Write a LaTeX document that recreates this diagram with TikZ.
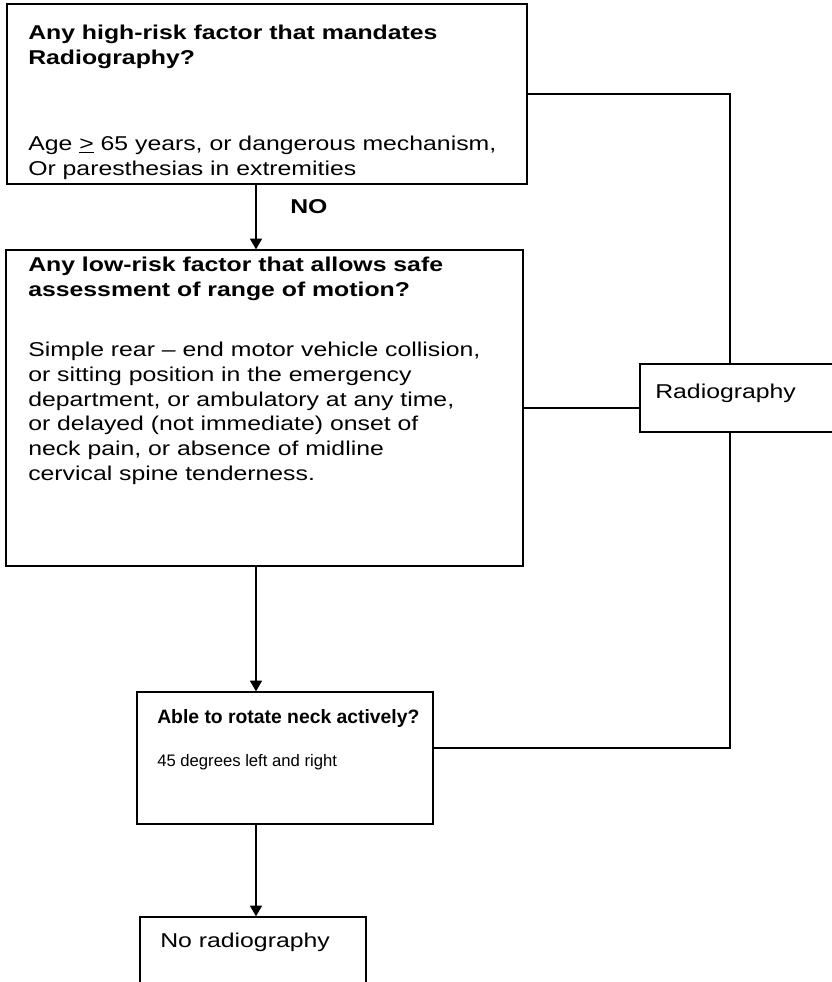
\documentclass[tikz,border=0pt]{standalone}
\usepackage{fontspec}
\setmainfont{Liberation Sans}[FakeStretch=1.24]
\newfontfamily\narrowfont{Liberation Sans}
\usetikzlibrary{positioning,arrows.meta}

\tikzset{
  box/.style={draw, line width=1pt, inner sep=0pt},
  txt/.style={anchor=base west, align=left, inner sep=0pt,
    font=\fontsize{15}{18.5}\selectfont},
  smalltxt/.style={txt, font=\narrowfont\fontsize{12.5}{15}\selectfont},
  arr/.style={line width=1pt, -{Triangle[width=9pt,length=8pt]}}
}

\begin{document}
\begin{tikzpicture}[x=0.75pt, y=-0.75pt]
    \useasboundingbox (0,0) rectangle (832,982);
    % boxes
    \node [box, minimum width=390pt, minimum height=135pt] (high) at (267,94) {};
    \node [box, minimum width=387.75pt, minimum height=237pt] (low) at (264.5,408) {};
    \node [box, minimum width=222pt, minimum height=99pt] (rot) at (285,758) {};
    \node [box, minimum width=169.5pt, minimum height=75pt] (none) at (253,967) {};
    \node [box, minimum width=165pt, minimum height=51pt] (xray) at (750,398) {};
    % texts
    \node [txt, font=\fontsize{15}{18.5}\bfseries] (hightitle) at (28,64)
      {Any high-risk factor that mandates\\Radiography?};
    \node [txt] (highbody) at (28,175)
      {Age \underline{>} 65 years, or dangerous mechanism,\\Or paresthesias in extremities};
    \node [txt, font=\fontsize{15}{18.5}\bfseries] (lowtitle) at (28,296)
      {Any low-risk factor that allows safe\\assessment of range of motion?};
    \node [txt] (lowbody) at (28,480)
      {Simple rear -- end motor vehicle collision,\\
       or sitting position in the emergency\\
       department, or ambulatory at any time,\\
       or delayed (not immediate) onset of\\
       neck pain, or absence of midline\\
       cervical spine tenderness.};
    \node [smalltxt, font=\narrowfont\fontsize{14.5}{15}\bfseries] (rottitle) at (157,723)
      {Able to rotate neck actively?};
    \node [smalltxt] (rotbody) at (157,766) {45 degrees left and right};
    \node [txt] (nonetxt) at (160,947) {No radiography};
    \node [txt] (xraytxt) at (655,398) {Radiography};
    \node [txt, font=\fontsize{15}{18.5}\bfseries] (no) at (290,213) {NO};
    % connectors
    \coordinate (axis) at (256,0);
    \coordinate (rx) at (730,0);
    \coordinate (c3) at (730,748);
    \draw [arr] (axis |- high.south) -- (axis |- low.north);
    \draw [arr] (axis |- low.south) -- (axis |- rot.north);
    \draw [arr] (axis |- rot.south) -- (axis |- none.north);
    \draw [line width=1pt] (high.east) -- (high.east -| rx) -- (rx |- xray.north);
    \draw [line width=1pt] (low.east) -- (low.east -| xray.west);
    \draw [line width=1pt] (rot.east |- c3) -- (c3) -- (c3 |- xray.south);
\end{tikzpicture}
\end{document}
